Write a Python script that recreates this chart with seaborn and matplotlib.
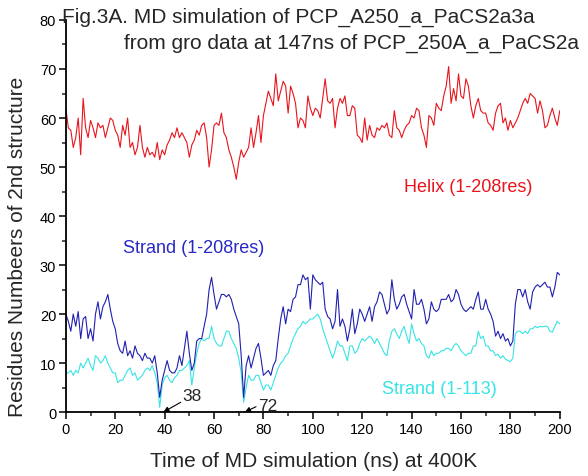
import numpy as np
import pandas as pd
import matplotlib
matplotlib.use('Agg')
import matplotlib.pyplot as plt
import seaborn as sns

# --- data (1 ns steps) ---
time_ns = np.arange(0, 201)

helix = [
    62, 58, 57.5, 54, 56, 60, 52.5, 64, 58, 56,
    59.5, 58, 56, 59, 58, 58.5, 56, 58, 60, 59.5,
    57.5, 56.5, 54, 58.5, 56.5, 60, 54, 55, 52.5, 54,
    58.5, 54, 52, 54, 52.5, 53, 52, 55, 51.5, 53.5,
    52.5, 54.5, 55.5, 57, 56, 58, 56, 57, 56, 55,
    52, 54.5, 55.5, 57.5, 56.5, 58.5, 59, 56, 50, 53.5,
    58.5, 59, 58.5, 61, 57, 56, 53.5, 52, 50, 47.5,
    51, 53.5, 52, 53, 54, 58, 54, 57, 60.5, 55,
    60.5, 63, 65.5, 64, 62.5, 69, 63.5, 65.5, 67.5, 66.5,
    61, 66.5, 65, 63, 58, 60, 59.5, 58, 64.5, 62,
    60.5, 62, 61.5, 60, 64, 68, 63.5, 63, 64, 58,
    62, 64, 63, 64.5, 60.5, 60.5, 62.5, 62, 56.5, 56,
    55, 60, 55.5, 58.5, 56.5, 56, 58, 57.5, 58.5, 58,
    59, 56.5, 56, 61.5, 58, 57.5, 56, 57.5, 58.5, 59,
    60.5, 60, 62, 61.5, 58, 56.5, 54, 60.5, 60, 58.5,
    63, 62, 61.5, 64.5, 66.5, 70.5, 63, 66, 63.5, 69,
    64.5, 64, 68, 66.5, 62.5, 60, 62.5, 64, 61.5, 61,
    61, 59, 58.5, 57.5, 61, 62.5, 63, 59, 60, 57.5,
    59.5, 58, 59, 60, 61.5, 63, 64, 63, 65, 64.5,
    64, 61, 63.5, 61.5, 58, 58.5, 60.5, 62, 60, 58.5,
    61.5,
]

strand_208 = [
    20, 18.5, 16.5, 20, 17.5, 20.5, 15, 19, 19.5, 15,
    17, 14.5, 20, 22.5, 19, 21.5, 22.5, 24, 21, 18.5,
    17, 14, 12.5, 12, 14.5, 11.5, 12.5, 11, 13.5, 12,
    11.5, 10.5, 12, 11, 11, 10, 11.5, 8, 3, 6.5,
    8.5, 10.5, 8.5, 8, 8, 9, 11.5, 9.5, 13, 16.5,
    12, 8.5, 10, 14.5, 15, 15, 17.5, 20, 25, 27.5,
    24, 21, 22.5, 24, 24, 23.5, 24, 23, 21, 19.5,
    18, 11.5, 3, 9.5, 11.5, 9, 11, 13, 14, 11,
    7.5, 8, 8.5, 7.5, 9.5, 10.5, 15, 19, 21.5, 18,
    21, 20.5, 23, 23.5, 26, 26, 28, 27, 27.5, 21,
    28, 27, 26.5, 26, 26.5, 21, 19.5, 19, 17, 18.5,
    25, 17.5, 19, 17.5, 14.5, 17, 21, 16, 18, 21,
    20, 18.5, 20, 21.5, 18.5, 21.5, 22.5, 24.5, 24, 22,
    20, 21, 27, 23, 21, 22, 23.5, 24, 22, 20.5,
    19, 25, 22, 22, 23, 21, 18, 19, 22.5, 21,
    20.5, 21, 23, 23, 23, 24, 22.5, 23, 25, 24,
    22, 21, 20.5, 21, 21.5, 21, 23, 24.5, 21, 21,
    23, 21, 20, 18.5, 15.5, 16.5, 15, 16, 14.5, 15,
    13.5, 14.5, 22, 25, 25, 23.5, 25, 22.5, 21, 24.5,
    25.5, 26, 25.5, 26, 26.5, 25.5, 25.5, 23.5, 25.5, 28.5,
    28,
]

strand_113 = [
    8, 8, 8.5, 7.5, 8.5, 8, 10, 9, 10, 11,
    9.5, 8.5, 11.5, 11, 10, 10.5, 11.5, 10, 9, 8,
    8, 6, 6.5, 6.5, 7.5, 8.5, 9, 7.5, 8, 6.5,
    7, 7.5, 8.5, 9, 8.5, 9.5, 8, 6, 1, 5.5,
    7, 7.5, 6.5, 6, 7, 7.5, 8.5, 8.5, 9, 9.5,
    10.5, 5.5, 9, 12, 14, 15, 14.5, 15, 15, 17.5,
    15, 14, 13.5, 13.5, 15, 16.5, 16.5, 15, 14, 13,
    11, 8, 2, 5, 7.5, 6.5, 6.5, 7.5, 7.5, 6,
    4.5, 5.5, 5.5, 4.5, 6, 7.5, 9, 10, 10.5, 11.5,
    12, 13.5, 15, 16, 17, 17.5, 18.5, 18, 18.5, 19,
    19, 19.5, 20, 19, 17, 15.5, 14, 12.5, 11, 12.5,
    14.5, 13.5, 13.5, 12, 10.5, 13.5, 13.5, 12, 12.5, 14,
    15, 14.5, 15, 15.5, 15, 14, 15, 14, 13, 12,
    11.5, 14.5, 16.5, 17, 16, 15, 16.5, 17.5, 15.5, 14,
    18, 16, 14.5, 15, 14, 13.5, 11.5, 11, 12.5, 11.5,
    12, 12, 12.5, 12.5, 13, 13, 12.5, 13.5, 14, 13.5,
    12.5, 12, 11.5, 12, 12, 13.5, 13.5, 16.5, 15, 15.5,
    13.5, 13.5, 12.5, 12.5, 11.5, 11.8, 11, 11.5, 10.8, 10.5,
    10.3, 11, 16, 16.5, 16.5, 16, 16.5, 16, 17, 17,
    17.5, 17.2, 17.5, 17.4, 17.5, 17.5, 16.5, 16.3, 17.5, 18.5,
    18,
]

x_ticks = [0, 20, 40, 60, 80, 100, 120, 140, 160, 180, 200]
y_ticks = [0, 10, 20, 30, 40, 50, 60, 70, 80]

# --- style ---
sns.set_style('ticks')
plt.rcParams['font.family'] = ['Liberation Sans', 'DejaVu Sans']

red = '#e8141c'
navy = '#2020b0'
cyan = '#38e4e4'

fig = plt.figure(figsize=(5.88, 4.77), dpi=100)
ax = fig.add_axes([0.112, 0.134, 0.840, 0.822])

# --- lines ---
sns.lineplot(x=time_ns, y=helix, color=red, linewidth=0.8, ax=ax)
sns.lineplot(x=time_ns, y=strand_113, color=cyan, linewidth=0.8, ax=ax)
sns.lineplot(x=time_ns, y=strand_208, color=navy, linewidth=0.8, ax=ax)

# --- axes formatting ---
ax.set_xlim(0, 200)
ax.set_ylim(0, 80)
ax.set_xticks(x_ticks)
ax.set_xticks(range(10, 200, 20), minor=True)
ax.set_yticks(y_ticks)
ax.set_yticks(range(5, 80, 10), minor=True)
ax.tick_params(which='major', direction='out', length=5, width=1.1,
               labelsize=10.5, colors='black', pad=2)
ax.tick_params(which='minor', direction='out', length=3, width=1.1)
ax.spines['top'].set_visible(False)
ax.spines['right'].set_visible(False)
for s in ['left', 'bottom']:
    ax.spines[s].set_linewidth(1.3)
    ax.spines[s].set_color('black')
ax.set_xlabel('')
ax.set_ylabel('')

# --- texts ---
fig.text(62 / 588, 1 - 17 / 477, 'Fig.3A. MD simulation of PCP_A250_a_PaCS2a3a',
         fontsize=15, ha='left', va='center')
fig.text(124 / 588, 1 - 43 / 477, 'from gro data at 147ns of PCP_250A_a_PaCS2a',
         fontsize=15, ha='left', va='center')
fig.text(314 / 588, 1 - 462 / 477, 'Time of MD simulation (ns) at 400K',
         fontsize=15, ha='center', va='center')
fig.text(18 / 588, 1 - 247 / 477, 'Residues Numbeers of 2nd structure',
         fontsize=15, ha='center', va='center', rotation=90)

ax.text(137, 46, 'Helix (1-208res)', color=red, fontsize=13, va='center')
ax.text(23, 33.5, 'Strand (1-208res)', color='#2828c8', fontsize=13, va='center')
ax.text(128, 4.8, 'Strand (1-113)', color=cyan, fontsize=13, va='center')

arrow = dict(arrowstyle='-|>', color='black', lw=0.8, mutation_scale=8,
             shrinkA=0, shrinkB=0)
ax.text(47, 3.3, '38', fontsize=12.5, ha='left', va='center')
ax.annotate('', xy=(39.5, 0), xytext=(46.5, 2.0), arrowprops=arrow)
ax.text(77.7, 1.4, '72', fontsize=12.5, ha='left', va='center')
ax.annotate('', xy=(72.5, 0), xytext=(77, 1.1), arrowprops=arrow)

fig.savefig('out.png', dpi=100)
